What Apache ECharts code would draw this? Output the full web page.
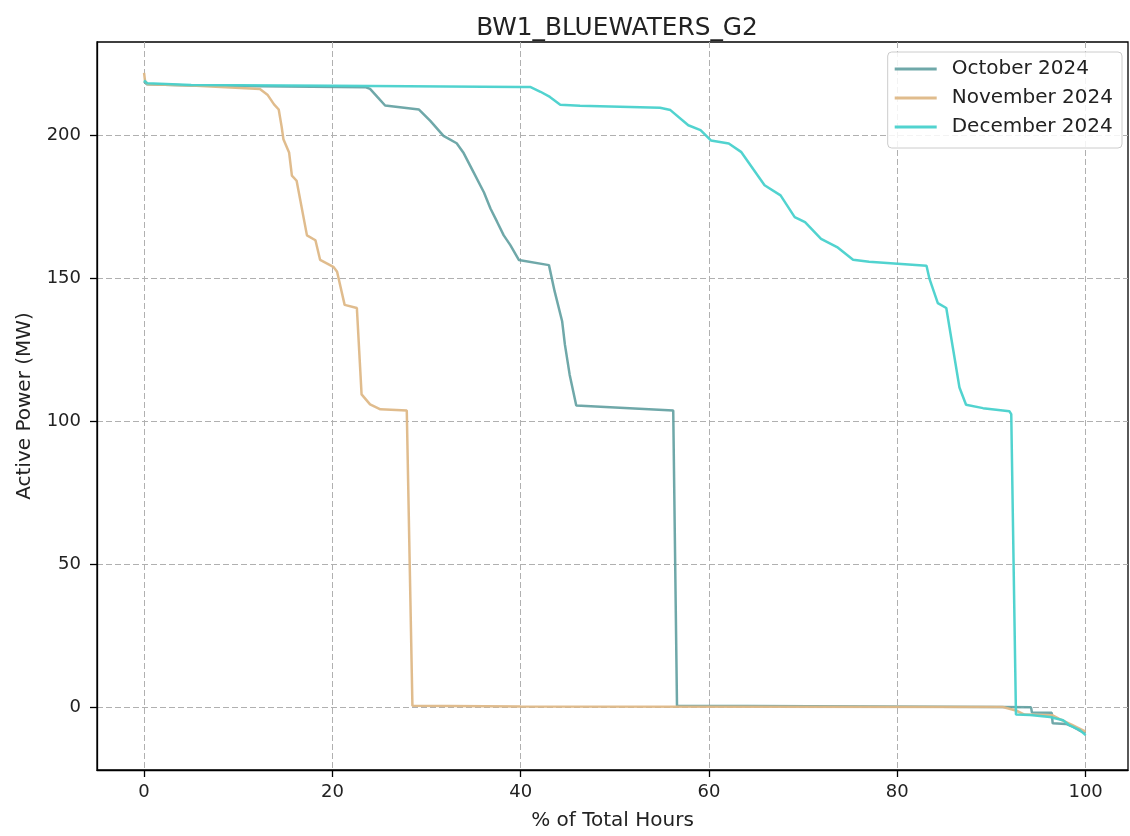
<!DOCTYPE html>
<html>
<head>
<meta charset="utf-8">
<script src="https://cdn.jsdelivr.net/npm/echarts@6/dist/echarts.min.js"></script>
<style>
html,body{margin:0;padding:0;background:#fff;}
#chart{width:1130px;height:836px;}
</style>
</head>
<body>
<div id="chart"></div>
<script>
// ---- data ----
const titleText = 'BW1_BLUEWATERS_G2';
const xTicks = [0, 20, 40, 60, 80, 100];
const yTicks = [0, 50, 100, 150, 200];

const octName = 'October 2024';
const octPct = [0, 0.3, 5, 15, 23.5, 24.0, 24.7, 25.6, 29.2, 30.4, 31.8, 33.2, 33.9, 35.0, 36.1, 36.8, 37.5, 38.2, 38.9, 39.8, 43.0, 43.6, 44.4, 44.7, 45.2, 45.9, 56.2, 56.6, 64, 64.1, 91, 94.2, 94.3, 96.4, 96.5, 97.9, 98.5, 99.3, 100];
const octMW  = [218.8, 217.8, 217.4, 217.0, 216.8, 216.2, 213.7, 210.4, 209, 205, 199.8, 197.2, 194, 187, 180, 174.3, 169.7, 165, 161.6, 156.4, 154.6, 145.5, 135, 126.7, 116.3, 105.5, 103.8, 0.6, 0.5, 0.2, 0.1, 0, -1.8, -1.9, -5.6, -5.8, -6.5, -8, -9];

const novName = 'November 2024';
const novPct = [0, 0.1, 0.4, 5, 12.3, 13.1, 13.8, 14.3, 14.6, 14.8, 15.4, 15.7, 16.2, 17.3, 18.2, 18.7, 20.1, 20.5, 21.3, 22.6, 23.1, 24.0, 25.1, 27.9, 28.5, 40, 91.2, 92.6, 93.5, 96.5, 97.2, 98.5, 100];
const novMW  = [221.8, 219, 217.8, 217.4, 216.2, 214.2, 210.8, 209, 203.2, 198.6, 194, 185.9, 184.1, 165, 163.3, 156.4, 154, 152.3, 140.7, 139.6, 109.4, 105.9, 104.2, 103.8, 0.6, 0.3, 0.1, -1.1, -2.5, -2.8, -4, -6, -8.5];

const decName = 'December 2024';
const decPct = [0, 0.3, 5, 20, 40.0, 41.0, 42.1, 43.1, 44.2, 46.3, 54.8, 55.9, 57.8, 59.1, 60.2, 62.1, 63.4, 65.9, 67.6, 69.1, 70.2, 71.9, 73.6, 75.3, 77.0, 83.1, 83.4, 84.3, 85.2, 85.9, 86.6, 87.3, 89.1, 91.9, 92.1, 92.6, 94.1, 96.2, 97.6, 98.3, 99.4, 100];
const decMW  = [219.2, 218.2, 217.6, 217.3, 216.9, 216.9, 215.2, 213.4, 210.7, 210.3, 209.6, 208.8, 203.5, 201.8, 198.2, 197.1, 194.2, 182.5, 179, 171.4, 169.6, 163.8, 160.9, 156.5, 155.8, 154.4, 150, 141.3, 139.6, 125.7, 111.8, 105.8, 104.6, 103.5, 102.5, -2.5, -2.7, -3.4, -4.5, -6.3, -8, -9.7];

function pairs(xs, ys) { return xs.map((x, i) => [x, ys[i]]); }

const FONT = 'DejaVu Sans';
const chart = echarts.init(document.getElementById('chart'), null, {renderer: 'canvas'});

function lineSeries(name, xs, ys, color, opacity) {
  return {
    name: name, type: 'line', data: pairs(xs, ys),
    showSymbol: false, symbol: 'none', smooth: false,
    lineStyle: {color: color, width: 2.5, opacity: opacity},
    itemStyle: {color: color, opacity: opacity},
    emphasis: {disabled: true}, animation: false
  };
}

chart.setOption({
  animation: false,
  backgroundColor: '#ffffff',
  title: {
    text: titleText, left: 612, top: 11, textAlign: 'center',
    textStyle: {fontFamily: FONT, fontSize: 24.8, fontWeight: 'normal', color: '#222'}
  },
  legend: {
    orient: 'vertical', right: 8, top: 52,
    icon: 'rect', itemWidth: 42, itemHeight: 3, itemGap: 9,
    padding: [7, 9, 11, 7],
    backgroundColor: 'rgba(255,255,255,0.85)',
    borderColor: '#cccccc', borderWidth: 1, borderRadius: 4,
    textStyle: {fontFamily: FONT, fontSize: 20, color: '#222', padding: [0, 0, 0, 10]},
    data: [octName, novName, decName]
  },
  grid: {left: 97, top: 42, right: 2, bottom: 61, show: true, borderColor: '#000', borderWidth: 1.3, containLabel: false},
  xAxis: {
    type: 'value', min: -5, max: 104.5,
    name: '% of Total Hours', nameLocation: 'middle', nameGap: 41,
    nameTextStyle: {fontFamily: FONT, fontSize: 20, color: '#222'},
    axisLine: {show: true, onZero: false, lineStyle: {color: '#000', width: 1.3}},
    axisTick: {show: true, length: 7, inside: false, customValues: xTicks, lineStyle: {color: '#000', width: 1.3}},
    axisLabel: {show: true, margin: 13, customValues: xTicks, fontFamily: FONT, fontSize: 18, color: '#222'},
    splitLine: {show: true, lineStyle: {color: '#b0b0b0', width: 1, type: [6, 3]}}
  },
  yAxis: {
    type: 'value', min: -21.9, max: 232.6,
    name: 'Active Power (MW)', nameLocation: 'middle', nameGap: 62, nameRotate: 90,
    nameTextStyle: {fontFamily: FONT, fontSize: 20, color: '#222'},
    axisLine: {show: true, onZero: false, lineStyle: {color: '#000', width: 1.3}},
    axisTick: {show: true, length: 7, inside: false, customValues: yTicks, lineStyle: {color: '#000', width: 1.3}},
    axisLabel: {show: true, margin: 16, customValues: yTicks, fontFamily: FONT, fontSize: 18, color: '#222'},
    splitLine: {show: true, lineStyle: {color: '#b0b0b0', width: 1, type: [6, 3]}}
  },
  series: [
    lineSeries(octName, octPct, octMW, '#5F9EA0', 0.9),
    lineSeries(novName, novPct, novMW, '#DEB887', 0.95),
    lineSeries(decName, decPct, decMW, '#48D1CC', 0.95)
  ]
});
</script>
</body>
</html>
